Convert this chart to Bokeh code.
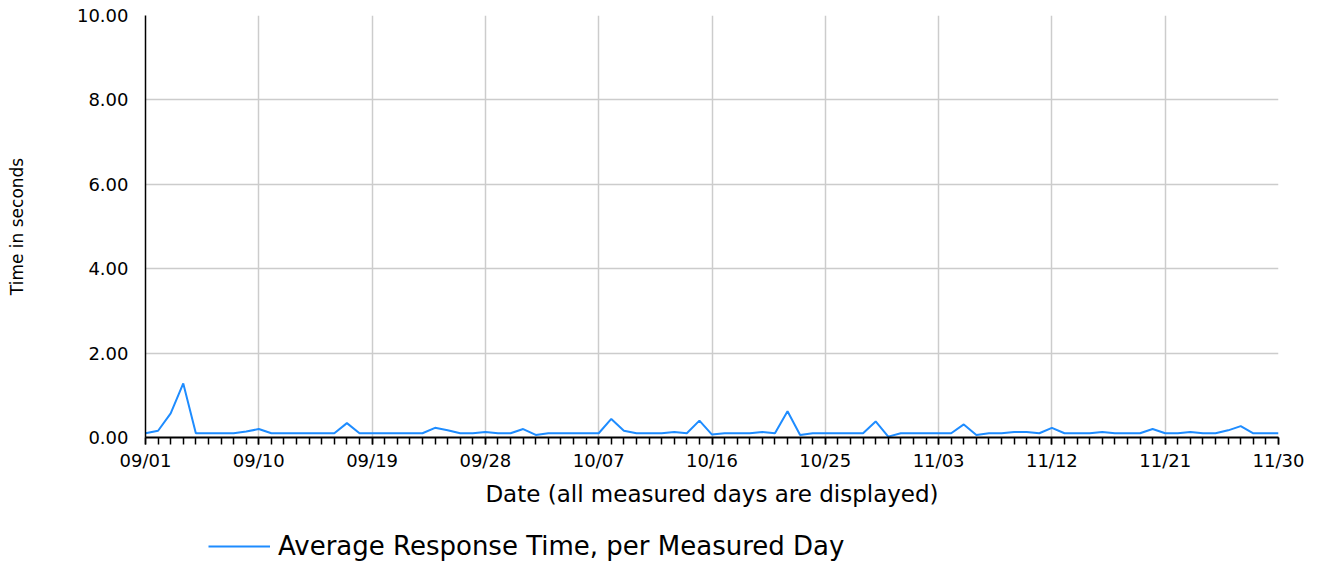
import pandas as pd
from bokeh.plotting import figure
from bokeh.layouts import column
from bokeh.models import FixedTicker, Range1d, Legend, LegendItem, NumeralTickFormatter, ColumnDataSource
from bokeh.embed import file_html
from bokeh.resources import INLINE

# ---- data ----
days = [d.strftime("%m/%d") for d in pd.date_range("2023-09-01", "2023-11-30", freq="D")]
response_time = [
    0.10, 0.16, 0.57, 1.28, 0.10, 0.10, 0.10, 0.10, 0.14, 0.20,   # 09/01-09/10
    0.10, 0.10, 0.10, 0.10, 0.10, 0.10, 0.34, 0.10, 0.10, 0.10,   # 09/11-09/20
    0.10, 0.10, 0.10, 0.23, 0.17, 0.10, 0.10, 0.13, 0.10, 0.10,   # 09/21-09/30
    0.20, 0.06, 0.10, 0.10, 0.10, 0.10, 0.10, 0.44, 0.16, 0.10,   # 10/01-10/10
    0.10, 0.10, 0.13, 0.10, 0.40, 0.07, 0.10, 0.10, 0.10, 0.13,   # 10/11-10/20
    0.10, 0.62, 0.06, 0.10, 0.10, 0.10, 0.10, 0.10, 0.38, 0.02,   # 10/21-10/30
    0.10, 0.10, 0.10, 0.10, 0.10, 0.31, 0.06, 0.10, 0.10, 0.13,   # 10/31-11/09
    0.13, 0.10, 0.23, 0.10, 0.10, 0.10, 0.13, 0.10, 0.10, 0.10,   # 11/10-11/19
    0.20, 0.10, 0.10, 0.13, 0.10, 0.10, 0.17, 0.27, 0.10, 0.10,   # 11/20-11/29
    0.10,                                                         # 11/30
]
tick_labels = ["09/01", "09/10", "09/19", "09/28", "10/07", "10/16",
               "10/25", "11/03", "11/12", "11/21", "11/30"]
y_ticks = [0, 2, 4, 6, 8, 10]
series_name = "Average Response Time, per Measured Day"

day_index = list(range(len(days)))
tick_pos = [days.index(t) for t in tick_labels]

source = ColumnDataSource(dict(x=day_index, y=response_time, day=days))

FONT = "DejaVu Sans"
LINE_COLOR = "#1E8CFF"

p = figure(
    frame_width=1133, frame_height=422,
    min_border_left=145, min_border_right=31, min_border_top=15, min_border_bottom=80,
    x_range=Range1d(0, len(days) - 1), y_range=Range1d(0, 10),
    output_backend="svg", toolbar_location=None,
    background_fill_color="white", border_fill_color="white",
)
p.outline_line_color = None

r = p.line("x", "y", source=source, line_color=LINE_COLOR, line_width=2)

# x axis
xt = FixedTicker(ticks=tick_pos, minor_ticks=day_index)
p.xaxis.ticker = xt
p.xaxis.major_label_overrides = {pos: lab for pos, lab in zip(tick_pos, tick_labels)}
p.xaxis.axis_line_color = "black"
p.xaxis.axis_line_width = 2
p.xaxis.major_tick_in = 0
p.xaxis.major_tick_out = 7
p.xaxis.minor_tick_in = 0
p.xaxis.minor_tick_out = 7
p.xaxis.major_tick_line_color = "black"
p.xaxis.minor_tick_line_color = "black"
p.xaxis.major_tick_line_width = 1.5
p.xaxis.minor_tick_line_width = 1.5
p.xaxis.major_label_text_font = FONT
p.xaxis.major_label_text_font_size = "18px"
p.xaxis.major_label_text_color = "black"
p.xaxis.major_label_standoff = 5
p.xaxis.axis_label = "Date (all measured days are displayed)"
p.xaxis.axis_label_text_font = FONT
p.xaxis.axis_label_text_font_size = "23px"
p.xaxis.axis_label_text_font_style = "normal"
p.xaxis.axis_label_text_color = "black"
p.xaxis.axis_label_standoff = 7

# y axis
p.yaxis.ticker = FixedTicker(ticks=y_ticks, minor_ticks=[])
p.yaxis.formatter = NumeralTickFormatter(format="0.00")
p.yaxis.axis_line_color = "black"
p.yaxis.axis_line_width = 1.5
p.yaxis.major_tick_in = 0
p.yaxis.major_tick_out = 0
p.yaxis.minor_tick_in = 0
p.yaxis.minor_tick_out = 0
p.yaxis.major_label_text_font = FONT
p.yaxis.major_label_text_font_size = "18px"
p.yaxis.major_label_text_color = "black"
p.yaxis.major_label_standoff = 17
p.yaxis.axis_label = "Time in seconds"
p.yaxis.axis_label_text_font = FONT
p.yaxis.axis_label_text_font_size = "17px"
p.yaxis.axis_label_text_font_style = "normal"
p.yaxis.axis_label_text_color = "black"
p.yaxis.axis_label_standoff = 47

# grids
p.xgrid.grid_line_color = "#cccccc"
p.xgrid.grid_line_width = 1.5
p.ygrid.grid_line_color = "#cccccc"
p.ygrid.grid_line_width = 1.5

# legend strip below the chart (its frame is aligned with the chart's frame)
lg = figure(
    width=1309, height=44, min_border=0,
    x_range=Range1d(-10, -5), y_range=Range1d(-10, -5),
    x_axis_location=None, y_axis_location=None,
    output_backend="svg", toolbar_location=None,
    background_fill_color="white", border_fill_color="white",
)
lg.outline_line_color = None
lg.grid.visible = False
# same series, outside this strip's view: only its legend swatch is seen
lr = lg.line("x", "y", source=source, line_color=LINE_COLOR, line_width=2)

legend = Legend(
    items=[LegendItem(label=series_name, renderers=[lr])],
    location=(63, 0),
    border_line_color=None, background_fill_alpha=0,
    padding=0, margin=0, spacing=0,
    glyph_width=62, glyph_height=20, label_standoff=8,
    label_text_font=FONT, label_text_font_size="26px", label_text_color="black",
)
lg.add_layout(legend, "center")

layout = column(p, lg, spacing=0)
open("out.html", "w").write(file_html(layout, INLINE))
